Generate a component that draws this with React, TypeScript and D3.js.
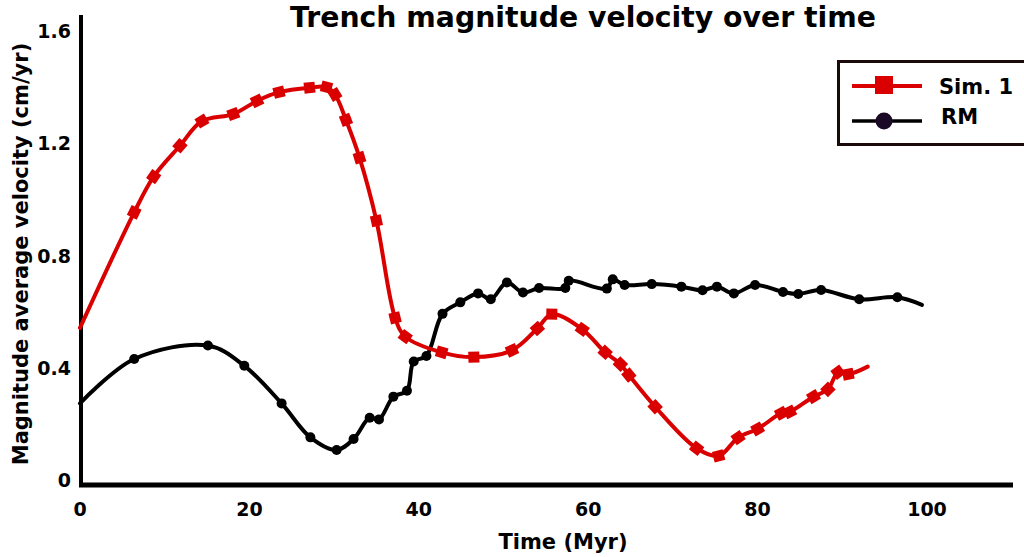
import React from "react";
import * as d3 from "d3";

const simTime = [0, 6.4, 8.7, 11.8, 14.4, 18.1, 20.9, 23.5, 27.1, 29.1, 30.1, 31.4, 33.0, 35.0, 37.2, 38.4, 42.7, 46.5, 51.0, 54.0, 55.7, 59.3, 62.0, 63.8, 64.8, 67.9, 72.8, 75.4, 77.7, 80.0, 82.8, 83.8, 86.6, 88.3, 89.5, 90.7, 93.0];
const simVel = [0.542, 0.954, 1.081, 1.191, 1.279, 1.304, 1.351, 1.382, 1.398, 1.4, 1.374, 1.283, 1.149, 0.924, 0.578, 0.511, 0.455, 0.438, 0.462, 0.54, 0.591, 0.537, 0.455, 0.413, 0.374, 0.261, 0.113, 0.086, 0.151, 0.182, 0.238, 0.243, 0.297, 0.323, 0.384, 0.377, 0.404];

const rmTime = [0, 6.4, 15.1, 19.4, 23.8, 27.2, 30.3, 32.3, 34.2, 35.3, 37.0, 38.6, 39.4, 40.9, 42.8, 44.9, 47.0, 48.5, 50.4, 52.3, 54.2, 57.3, 57.7, 62.2, 62.9, 64.3, 67.5, 71.0, 73.5, 75.2, 77.2, 79.7, 83.0, 84.8, 87.5, 92.0, 96.5, 99.4];
const rmVel = [0.273, 0.431, 0.479, 0.407, 0.273, 0.152, 0.107, 0.146, 0.222, 0.216, 0.297, 0.318, 0.422, 0.442, 0.592, 0.633, 0.665, 0.644, 0.704, 0.668, 0.684, 0.684, 0.71, 0.682, 0.715, 0.695, 0.698, 0.689, 0.676, 0.689, 0.665, 0.695, 0.67, 0.663, 0.677, 0.644, 0.651, 0.624];

const xTicks = [0, 20, 40, 60, 80, 100];
const yTicks = [0, 0.4, 0.8, 1.2, 1.6];
const yTickLabels = ["0", "0.4", "0.8", "1.2", "1.6"];

const TITLE = "Trench magnitude velocity over time";
const X_LABEL = "Time (Myr)";
const Y_LABEL = "Magnitude average velocity (cm/yr)";
const SERIES_NAMES = ["Sim. 1", "RM"];

const RED = "#da0000";
const FONT = "'DejaVu Sans', sans-serif";

export default function App() {
  const W = 1024;
  const H = 557;
  const x = d3.scaleLinear().domain([0, 100]).range([80, 927]);
  const y = d3.scaleLinear().domain([0, 1.6]).range([480, 31]);

  const simPts: [number, number][] = simTime.map((t, i) => [x(t), y(simVel[i])]);
  const rmPts: [number, number][] = rmTime.map((t, i) => [x(t), y(rmVel[i])]);

  const line = d3.line<[number, number]>().x((d) => d[0]).y((d) => d[1]).curve(d3.curveCatmullRom.alpha(0.5));

  const angleAt = (pts: [number, number][], i: number) => {
    const a = pts[Math.max(0, i - 1)];
    const b = pts[Math.min(pts.length - 1, i + 1)];
    return (Math.atan2(b[1] - a[1], b[0] - a[0]) * 180) / Math.PI;
  };

  const ms = 11;

  return (
    <svg width={W} height={H} style={{ position: "absolute", left: 0, top: 0, background: "#fff" }} fontFamily={FONT}>
      <rect x={0} y={0} width={W} height={H} fill="#fff" />
      {/* axes */}
      <line x1={81} y1={15} x2={81} y2={487} stroke="#000" strokeWidth={4} />
      <line x1={79} y1={485} x2={1013} y2={485} stroke="#000" strokeWidth={5} />
      {/* y ticks */}
      {yTicks.map((v, i) => (
        <text key={"yt" + i} x={71} y={y(v) + 7} textAnchor="end" fontSize={19} fontWeight="bold" fill="#000">
          {yTickLabels[i]}
        </text>
      ))}
      {/* x ticks */}
      {xTicks.map((v, i) => (
        <text key={"xt" + i} x={x(v)} y={516} textAnchor="middle" fontSize={19} fontWeight="bold" fill="#000">
          {String(v)}
        </text>
      ))}
      {/* title and labels */}
      <text x={583} y={27} textAnchor="middle" fontSize={28.3} fontWeight="bold" fill="#000">
        {TITLE}
      </text>
      <text x={563} y={549} textAnchor="middle" fontSize={21} fontWeight="bold" fill="#000">
        {X_LABEL}
      </text>
      <text transform="translate(28,254) rotate(-90)" textAnchor="middle" fontSize={21} fontWeight="bold" fill="#000">
        {Y_LABEL}
      </text>

      {/* RM series */}
      <path d={line(rmPts) || ""} fill="none" stroke="#000" strokeWidth={4} strokeLinejoin="round" strokeLinecap="round" />
      {rmPts.slice(1, -1).map((p, i) => (
        <circle key={"rm" + i} cx={p[0]} cy={p[1]} r={5} fill="#000" />
      ))}

      {/* Sim 1 series */}
      <path d={line(simPts) || ""} fill="none" stroke={RED} strokeWidth={4} strokeLinejoin="round" strokeLinecap="round" />
      {simPts.map((p, i) =>
        i === 0 || i === simPts.length - 1 ? null : (
          <rect
            key={"sm" + i}
            x={-ms / 2}
            y={-ms / 2}
            width={ms}
            height={ms}
            fill={RED}
            transform={`translate(${p[0]},${p[1]}) rotate(${angleAt(simPts, i)})`}
          />
        )
      )}

      {/* legend */}
      <rect x={838.5} y={61.5} width={200} height={83} fill="#fff" stroke="#1a0a0a" strokeWidth={3} />
      <line x1={852} y1={86} x2={922} y2={86} stroke={RED} strokeWidth={4} />
      <rect x={875} y={76} width={18} height={18} fill={RED} />
      <text x={939} y={94} fontSize={21} fontWeight="bold" fill="#000">
        {SERIES_NAMES[0]}
      </text>
      <line x1={852} y1={121} x2={922} y2={121} stroke="#000" strokeWidth={3.5} />
      <circle cx={884} cy={121} r={8.5} fill="#1b0a26" />
      <text x={941} y={124} fontSize={21} fontWeight="bold" fill="#000">
        {SERIES_NAMES[1]}
      </text>
    </svg>
  );
}
